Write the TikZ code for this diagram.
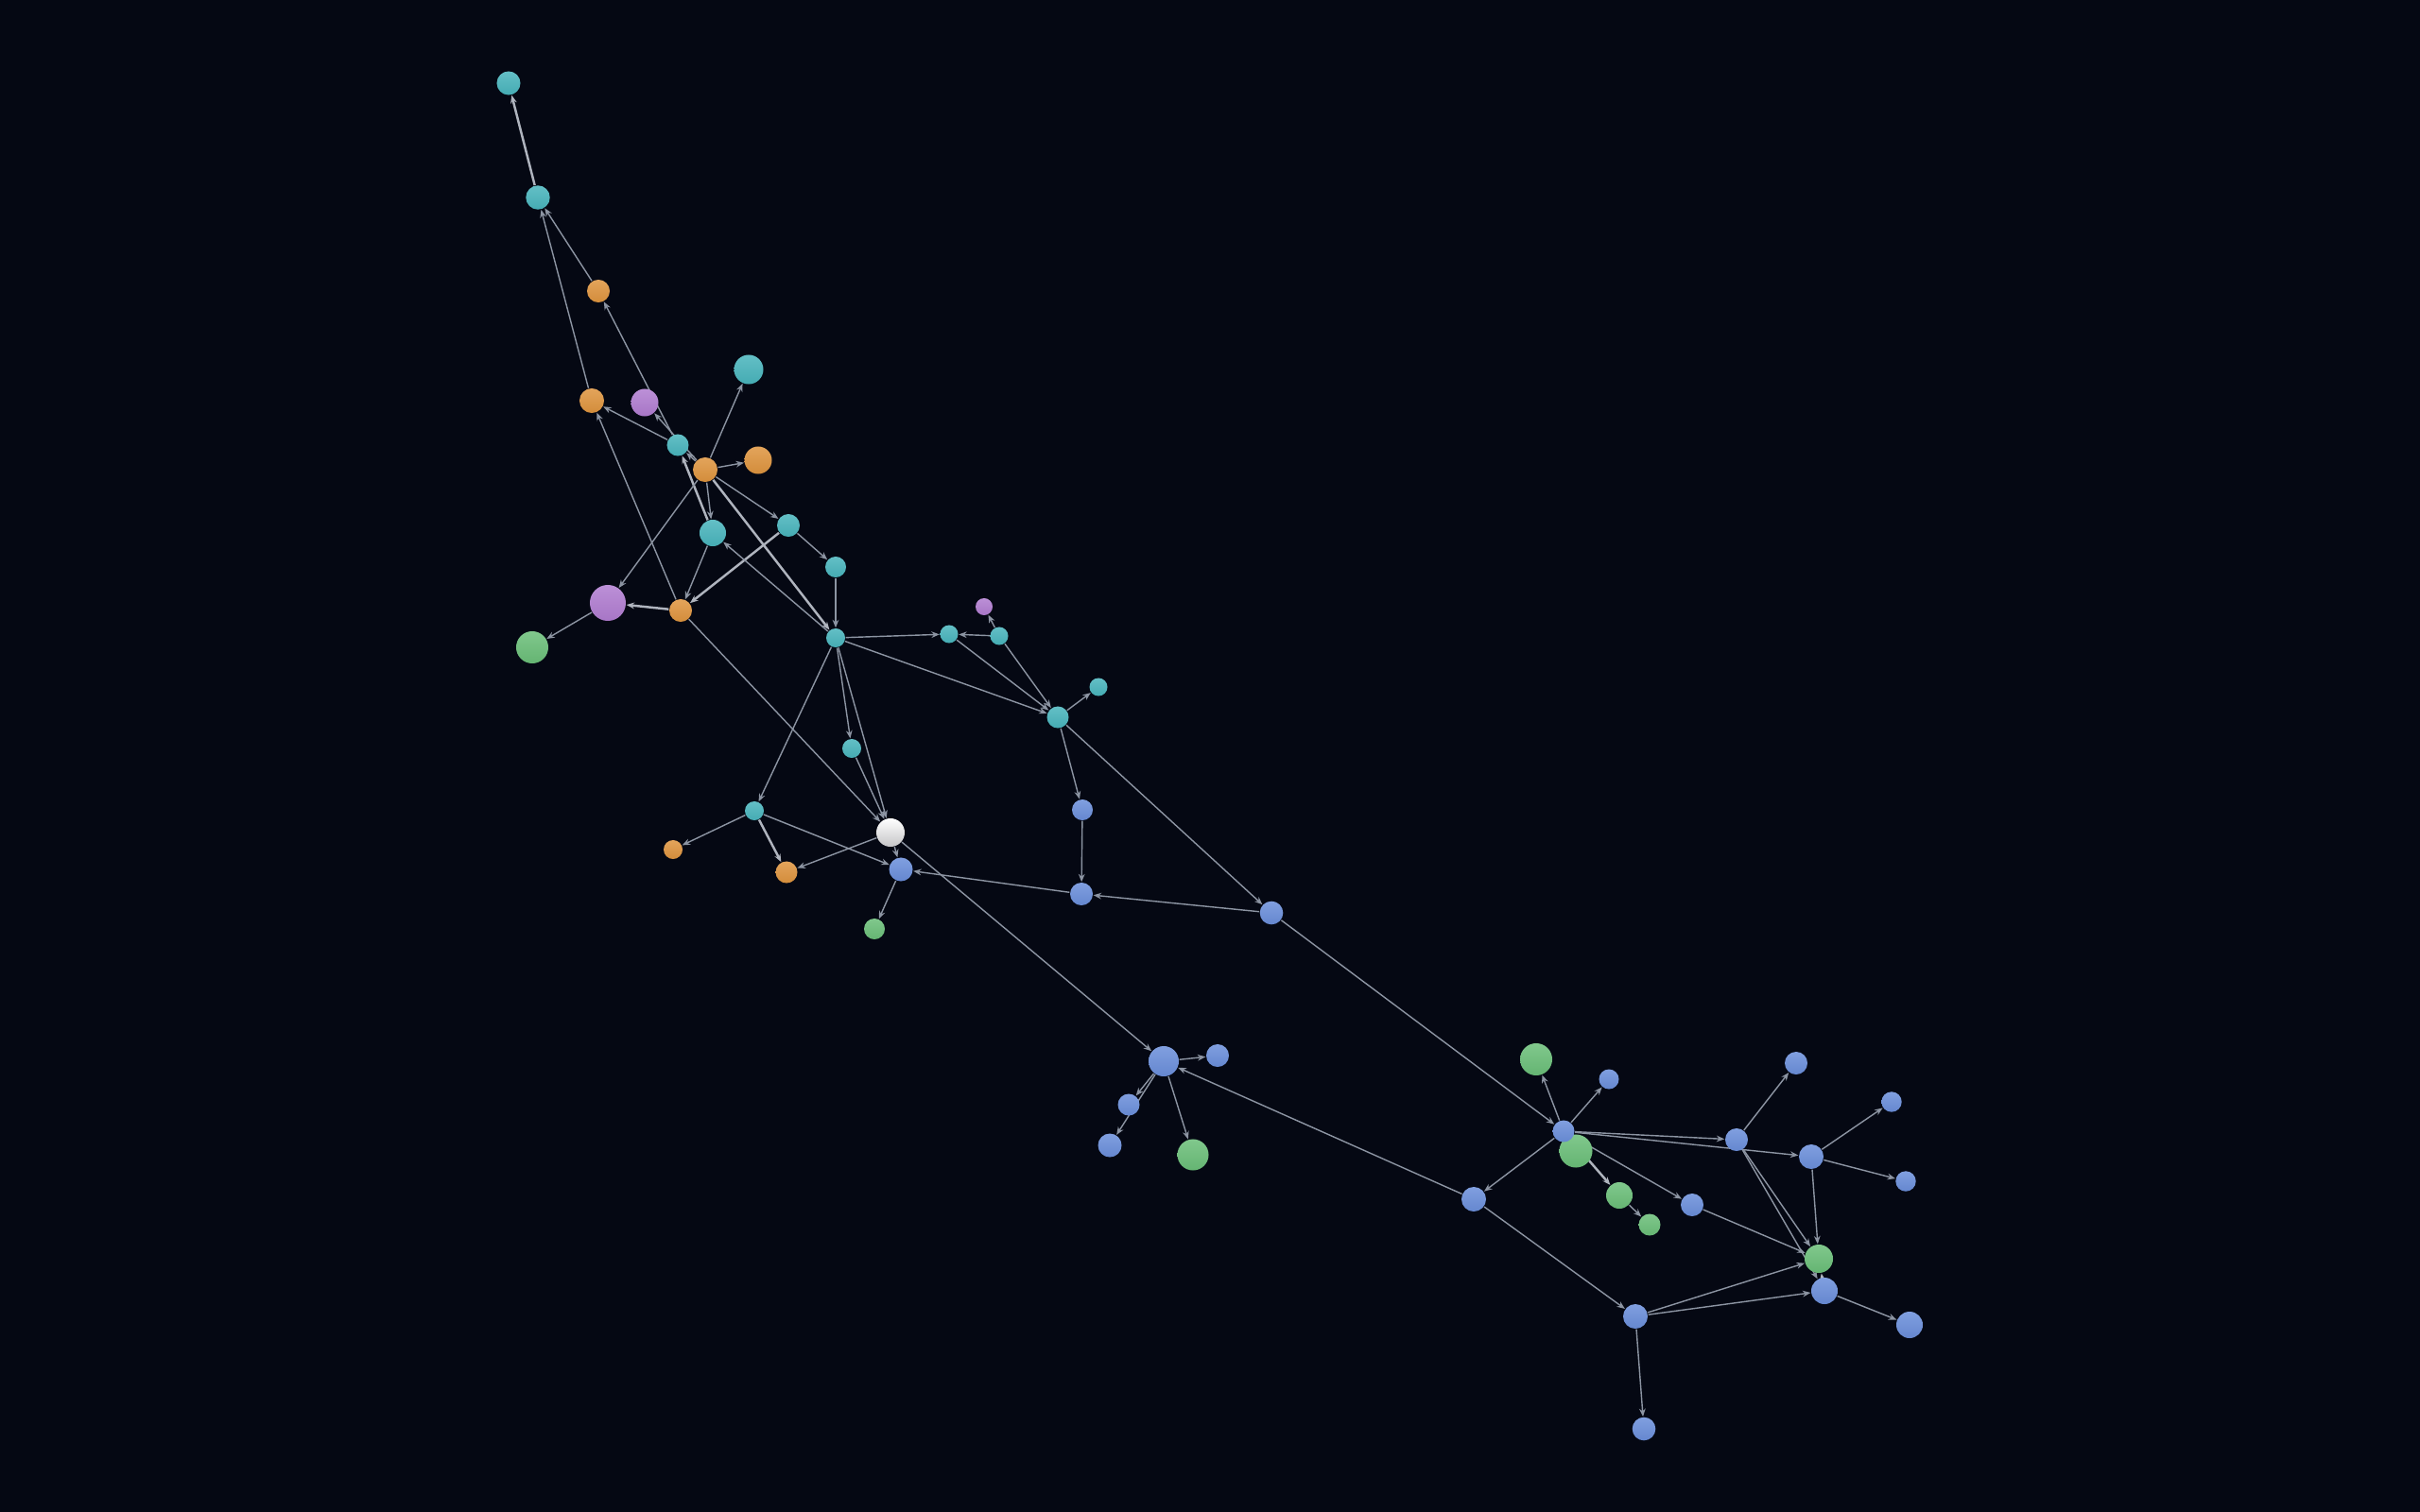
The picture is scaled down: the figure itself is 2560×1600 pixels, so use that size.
\documentclass[tikz,border=0pt]{standalone}
\usetikzlibrary{arrows.meta}
\pgfdeclarelayer{back}
\pgfsetlayers{back,main}
\definecolor{bgc}{RGB}{5,8,19}
\definecolor{tlc}{RGB}{72,180,188}
\definecolor{ogc}{RGB}{222,148,62}
\definecolor{ppc}{RGB}{176,124,208}
\definecolor{grc}{RGB}{106,190,120}
\definecolor{blc}{RGB}{106,142,218}
\definecolor{whc}{RGB}{232,232,234}
\definecolor{edc}{RGB}{140,148,162}
\begin{document}
\begin{tikzpicture}[x=0.01cm, y=-0.01cm, >={Stealth[length=2.4pt,width=1.9pt]},
    main/.style = {circle, inner sep=0pt, minimum size=#1*0.02cm},
    tn/.style = {main=#1, top color=tlc!85!white, bottom color=tlc!95!black},
    on/.style = {main=#1, top color=ogc!85!white, bottom color=ogc!95!black},
    pn/.style = {main=#1, top color=ppc!85!white, bottom color=ppc!95!black},
    gn/.style = {main=#1, top color=grc!85!white, bottom color=grc!95!black},
    bn/.style = {main=#1, top color=blc!85!white, bottom color=blc!95!black},
    wn/.style = {main=#1, top color=white, bottom color=whc!85!black},
    link/.style = {draw=edc, line width=0.4pt},
    bold/.style = {draw=edc!70!white, line width=0.7pt}]
    \node[tn=12.5] (1) at (538,88) {};
    \node[tn=12.7] (2) at (569,209) {};
    \node[on=12] (3) at (633,308) {};
    \node[on=13] (4) at (626,424) {};
    \node[pn=14.5] (5) at (682,426) {};
    \node[tn=15.5] (6) at (792,391) {};
    \node[tn=11.5] (7) at (717,471) {};
    \node[on=13] (8) at (746,497) {};
    \node[on=14.5] (9) at (802,487) {};
    \node[tn=14] (10) at (754,564) {};
    \node[tn=12] (11) at (834,556) {};
    \node[tn=11] (12) at (884,600) {};
    \node[pn=19] (13) at (643,638) {};
    \node[on=12] (14) at (720,646) {};
    \node[gn=17] (15) at (563,685) {};
    \node[tn=10] (16) at (884,675) {};
    \node[pn=9] (17) at (1041,642) {};
    \node[tn=9.5] (18) at (1004,671) {};
    \node[tn=9.5] (19) at (1057,673) {};
    \node[tn=9.5] (20) at (1162,727) {};
    \node[tn=11.5] (21) at (1119,759) {};
    \node[tn=10] (22) at (901,792) {};
    \node[tn=10] (23) at (798,858) {};
    \node[on=10] (24) at (712,899) {};
    \node[on=11.5] (25) at (832,923) {};
    \node[wn=15] (26) at (942,881) {};
    \node[bn=12.5] (27) at (953,920) {};
    \node[gn=11] (28) at (925,983) {};
    \node[bn=11] (29) at (1145,857) {};
    \node[bn=12] (30) at (1144,946) {};
    \node[bn=12.3] (31) at (1345,966) {};
    \node[bn=16] (32) at (1231,1123) {};
    \node[bn=12] (33) at (1288,1117) {};
    \node[bn=11.5] (34) at (1194,1169) {};
    \node[bn=12.5] (35) at (1174,1212) {};
    \node[gn=16.5] (36) at (1262,1222) {};
    \node[bn=13] (37) at (1559,1269) {};
    \node[gn=17] (38) at (1625,1121) {};
    \node[gn=17.5] (41) at (1667,1218) {};
    \node[bn=11.5] (39) at (1654,1197) {};
    \node[bn=10.5] (40) at (1702,1142) {};
    \node[gn=14] (42) at (1713,1265) {};
    \node[gn=11.5] (43) at (1745,1296) {};
    \node[bn=12] (44) at (1790,1275) {};
    \node[bn=12] (45) at (1837,1206) {};
    \node[bn=12] (46) at (1900,1125) {};
    \node[bn=10.7] (47) at (2001,1166) {};
    \node[bn=13] (48) at (1916,1224) {};
    \node[bn=10.7] (49) at (2016,1250) {};
    \node[gn=15] (50) at (1924,1332) {};
    \node[bn=14] (51) at (1930,1366) {};
    \node[bn=14] (52) at (2020,1402) {};
    \node[bn=13] (53) at (1730,1393) {};
    \node[bn=12.3] (54) at (1739,1512) {};
    \begin{pgfonlayer}{back}
    \fill[bgc] (0,0) rectangle (2560,1600);
    \draw[bold, ->] (2) -- (1);
    \draw[link, ->] (3) -- (2);
    \draw[link, ->] (4) -- (2);
    \draw[link, ->] (7) -- (3);
    \draw[link, ->] (7) -- (4);
    \draw[link, ->] (8) -- (5);
    \draw[link, ->] (8) -- (7);
    \draw[bold, ->] (10) -- (7);
    \draw[link, ->] (8) -- (6);
    \draw[link, ->] (8) -- (9);
    \draw[link, ->] (8) -- (13);
    \draw[link, ->] (8) -- (10);
    \draw[link, ->] (8) -- (11);
    \draw[bold, ->] (8) -- (16);
    \draw[link, ->] (10) -- (14);
    \draw[bold, ->] (11) -- (14);
    \draw[link, ->] (11) -- (12);
    \draw[link, ->] (12) -- (16);
    \draw[bold, ->] (14) -- (13);
    \draw[link, ->] (13) -- (15);
    \draw[link, ->] (14) -- (4);
    \draw[link, ->] (16) -- (10);
    \draw[link, ->] (16) -- (18);
    \draw[link, ->] (19) -- (18);
    \draw[link, ->] (19) -- (17);
    \draw[link, ->] (18) -- (21);
    \draw[link, ->] (19) -- (21);
    \draw[link, ->] (16) -- (21);
    \draw[link, ->] (21) -- (20);
    \draw[link, ->] (21) -- (29);
    \draw[link, ->] (21) -- (31);
    \draw[link, ->] (29) -- (30);
    \draw[link, ->] (31) -- (30);
    \draw[link, ->] (30) -- (27);
    \draw[link, ->] (16) -- (23);
    \draw[link, ->] (16) -- (22);
    \draw[link, ->] (16) -- (26);
    \draw[link, ->] (22) -- (26);
    \draw[link, ->] (23) -- (24);
    \draw[bold, ->] (23) -- (25);
    \draw[link, ->] (23) -- (27);
    \draw[link, ->] (26) -- (25);
    \draw[link, ->] (26) -- (27);
    \draw[link, ->] (27) -- (28);
    \draw[link, ->] (26) -- (32);
    \draw[link, ->] (14) -- (26);
    \draw[link, ->] (32) -- (33);
    \draw[link, ->] (32) -- (34);
    \draw[link, ->] (32) -- (35);
    \draw[link, ->] (32) -- (36);
    \draw[link, ->] (37) -- (32);
    \draw[link, ->] (31) -- (39);
    \draw[link, ->] (39) -- (37);
    \draw[link, ->] (39) -- (38);
    \draw[link, ->] (39) -- (40);
    \draw[link, ->] (39) -- (45);
    \draw[link, ->] (39) -- (48);
    \draw[link, ->] (39) -- (44);
    \draw[bold, ->] (39) -- (42);
    \draw[link, ->] (42) -- (43);
    \draw[link, ->] (45) -- (46);
    \draw[link, ->] (45) -- (50);
    \draw[link, ->] (45) -- (51);
    \draw[link, ->] (48) -- (47);
    \draw[link, ->] (48) -- (49);
    \draw[link, ->] (48) -- (50);
    \draw[link, ->] (44) -- (50);
    \draw[bold, ->] (51) -- (50);
    \draw[link, ->] (51) -- (52);
    \draw[link, ->] (37) -- (53);
    \draw[link, ->] (53) -- (50);
    \draw[link, ->] (53) -- (51);
    \draw[link, ->] (53) -- (54);
    \end{pgfonlayer}
\end{tikzpicture}
\end{document}
